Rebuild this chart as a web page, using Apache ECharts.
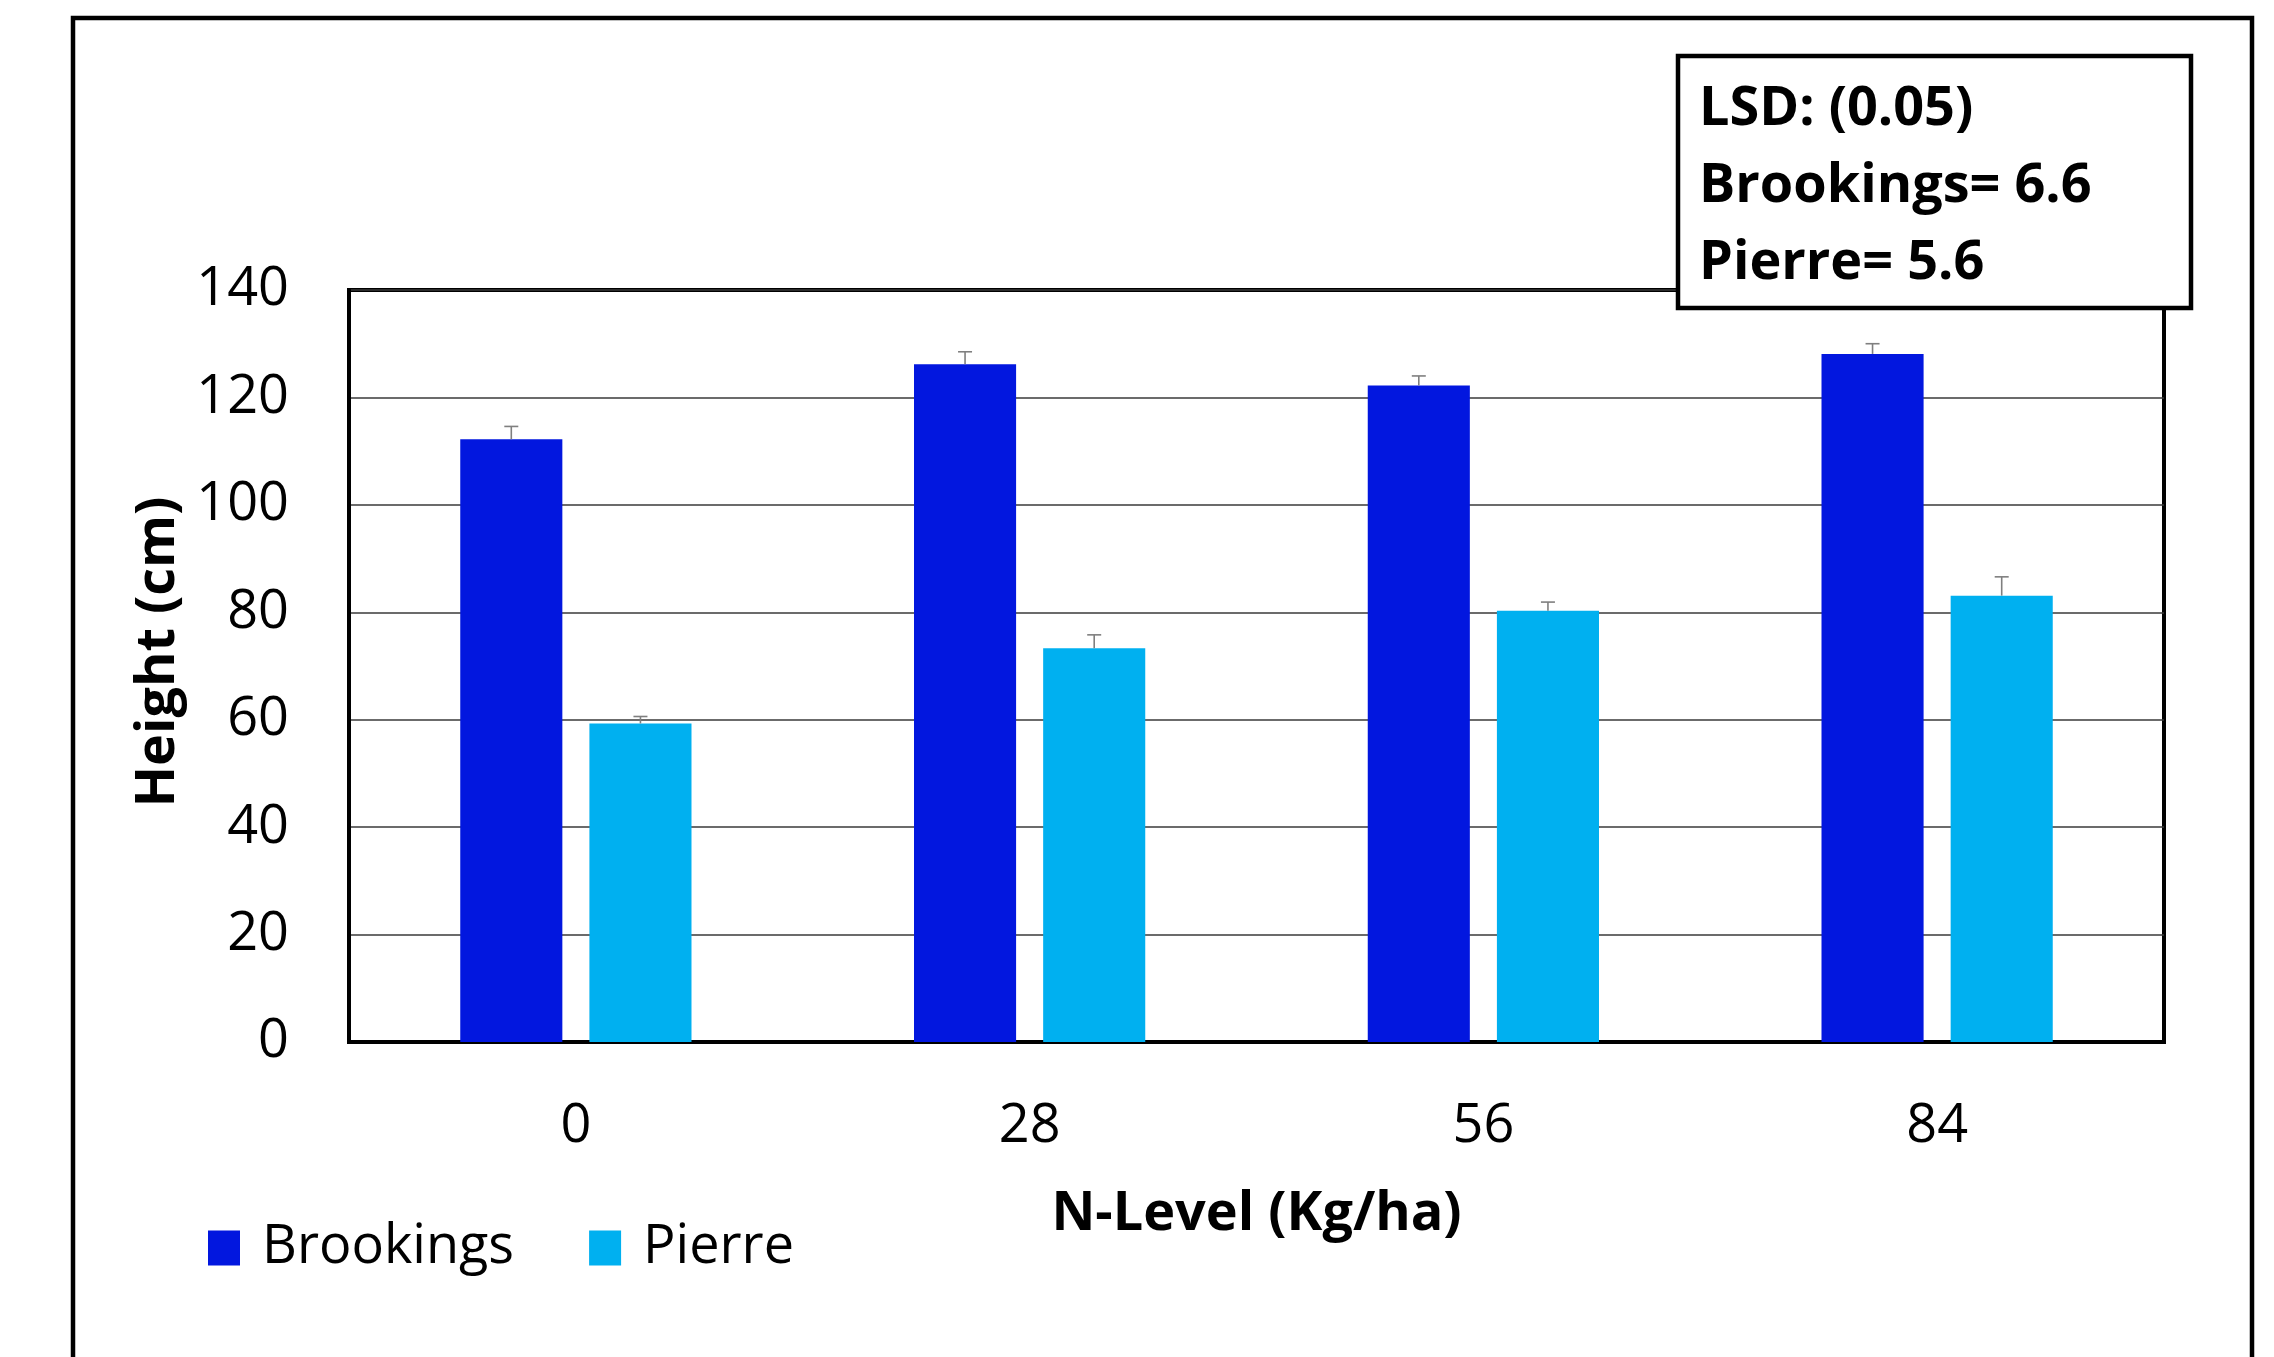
<!DOCTYPE html>
<html>
<head>
<meta charset="utf-8">
<script src="https://cdn.jsdelivr.net/npm/echarts@6/dist/echarts.min.js"></script>
<style>
html,body{margin:0;padding:0;background:#fff;}
#chart{width:2274px;height:1357px;}
</style>
</head>
<body>
<div id="chart"></div>
<script>
const categories = ['0', '28', '56', '84'];
const brookings = [112.2, 126.2, 122.2, 128.1];
const pierre = [59.3, 73.3, 80.3, 83.1];
const brookingsErr = [2.4, 2.3, 1.8, 1.9];
const pierreErr = [1.3, 2.5, 1.6, 3.5];
const yTicks = { min: 0, max: 140, interval: 20 };
const lsdLines = ['LSD: (0.05)', 'Brookings= 6.6', 'Pierre= 5.6'];

const FONT = '"Open Sans", "Liberation Sans", sans-serif';
const BAR_W = 0.225;   // fraction of category band
const BAR_GAP = 0.265; // fraction of bar width

const chart = echarts.init(document.getElementById('chart'));

function errorSeries(name, values, errs, side) {
  return {
    type: 'custom',
    name: name + ' err',
    z: 5,
    silent: true,
    data: values.map((v, i) => [i, v, errs[i]]),
    renderItem: function (params, api) {
      const i = api.value(0);
      const v = api.value(1);
      const e = api.value(2);
      const band = api.size([1, 0])[0];
      const bw = band * BAR_W;
      const off = side * (bw * (1 + BAR_GAP)) / 2;
      const base = api.coord([i, v]);
      const top = api.coord([i, v + e]);
      const x = base[0] + off;
      const cap = 7;
      const style = { stroke: '#7f7f7f', lineWidth: 1.6 };
      return {
        type: 'group',
        children: [
          { type: 'line', shape: { x1: x, y1: base[1], x2: x, y2: top[1] }, style: style },
          { type: 'line', shape: { x1: x - cap, y1: top[1], x2: x + cap, y2: top[1] }, style: style }
        ]
      };
    }
  };
}

const option = {
  backgroundColor: '#ffffff',
  animation: false,
  textStyle: { fontFamily: FONT, color: '#000' },
  grid: {
    left: 349, right: 110, top: 290, bottom: 315,
    show: true, borderColor: '#000', borderWidth: 4, backgroundColor: 'transparent'
  },
  legend: {
    left: 203, top: 1216,
    itemWidth: 32, itemHeight: 35, itemGap: 75,
    icon: 'rect',
    data: ['Brookings', 'Pierre'],
    textStyle: { fontFamily: FONT, fontSize: 54, color: '#000', padding: [0, 0, 0, 17] }
  },
  xAxis: {
    type: 'category',
    data: categories,
    name: 'N-Level (Kg/ha)',
    nameLocation: 'middle',
    nameGap: 146,
    nameTextStyle: { fontFamily: FONT, fontSize: 54, fontWeight: 'bold', color: '#000' },
    axisLine: { show: true, lineStyle: { color: '#000', width: 4 } },
    axisTick: { show: false },
    axisLabel: { fontFamily: FONT, fontSize: 54, color: '#000', margin: 58 }
  },
  yAxis: {
    type: 'value',
    min: yTicks.min, max: yTicks.max, interval: yTicks.interval,
    name: 'Height (cm)',
    nameLocation: 'middle',
    nameGap: 151,
    nameTextStyle: { fontFamily: FONT, fontSize: 54, fontWeight: 'bold', color: '#000', padding: [0, 0, 0, 28] },
    axisLine: { show: true, lineStyle: { color: '#000', width: 4 } },
    axisTick: { show: false },
    axisLabel: { fontFamily: FONT, fontSize: 54, color: '#000', margin: 60 },
    splitLine: { show: true, lineStyle: { color: '#3a3a3a', width: 1.5 } }
  },
  series: [
    {
      name: 'Brookings', type: 'bar', data: brookings,
      barWidth: (BAR_W * 100) + '%', barGap: (BAR_GAP * 100) + '%',
      itemStyle: { color: '#0217DF' }, z: 3
    },
    {
      name: 'Pierre', type: 'bar', data: pierre,
      barWidth: (BAR_W * 100) + '%', barGap: (BAR_GAP * 100) + '%',
      itemStyle: { color: '#00B0F0' }, z: 3
    },
    errorSeries('Brookings', brookings, brookingsErr, -1),
    errorSeries('Pierre', pierre, pierreErr, 1)
  ],
  graphic: [
    {
      type: 'rect', z: 0, silent: true,
      shape: { x: 73, y: 18, width: 2179, height: 1400 },
      style: { fill: 'none', stroke: '#000', lineWidth: 4.5 }
    },
    {
      type: 'rect', z: 100, silent: true,
      shape: { x: 1678, y: 56, width: 513, height: 252 },
      style: { fill: '#fff', stroke: '#000', lineWidth: 4.5 }
    }
  ].concat(lsdLines.map((t, i) => ({
    type: 'text', z: 101, silent: true,
    x: 1699, y: 110 + i * 77,
    style: { text: t, fontFamily: FONT, fontSize: 54, fontWeight: 'bold', fill: '#000', verticalAlign: 'middle', align: 'left' }
  })))
};
chart.setOption(option);
</script>
</body>
</html>
